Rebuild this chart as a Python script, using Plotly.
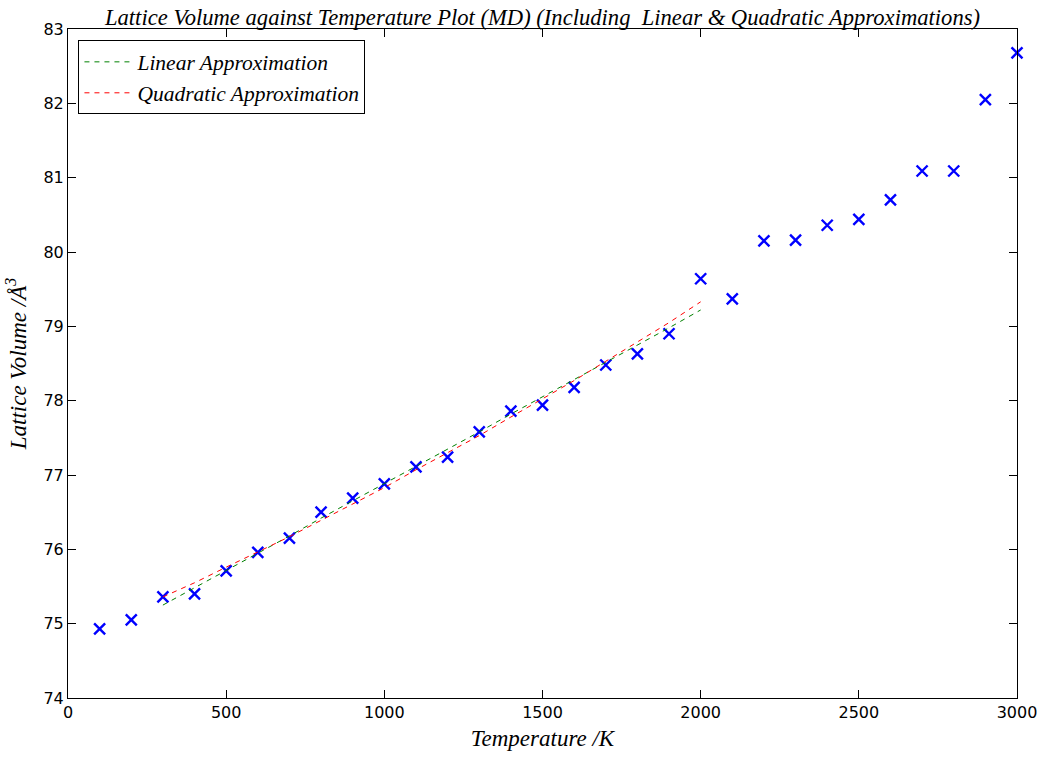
import plotly.graph_objects as go

temps = [100, 200, 300, 400, 500, 600, 700, 800, 900, 1000, 1100, 1200, 1300, 1400, 1500,
         1600, 1700, 1800, 1900, 2000, 2100, 2200, 2300, 2400, 2500, 2600, 2700, 2800, 2900, 3000]
volumes = [74.93, 75.05, 75.36, 75.40, 75.71, 75.96, 76.15, 76.50, 76.69, 76.88, 77.11, 77.24,
           77.58, 77.86, 77.94, 78.18, 78.48, 78.63, 78.90, 79.64, 79.37, 80.15, 80.16, 80.36,
           80.44, 80.70, 81.09, 81.09, 82.05, 82.68]

fit_temps = [300, 400, 500, 600, 700, 800, 900, 1000, 1100, 1200, 1300, 1400, 1500, 1600,
             1700, 1800, 1900, 2000]
linear_fit = [75.25, 75.48, 75.72, 75.95, 76.18, 76.42, 76.65, 76.88, 77.12, 77.35, 77.58,
              77.82, 78.05, 78.28, 78.52, 78.75, 78.98, 79.22]
quadratic_fit = [75.36, 75.55, 75.76, 75.96, 76.17, 76.39, 76.61, 76.83, 77.07, 77.30, 77.53,
                 77.78, 78.02, 78.27, 78.53, 78.79, 79.05, 79.33]

serif = "Liberation Serif"
sans = "DejaVu Sans"

fig = go.Figure()
fig.add_trace(go.Scatter(
    x=temps, y=volumes, mode="markers", showlegend=False,
    marker=dict(symbol="x-thin", size=11, line=dict(color="#0000ff", width=2.4)),
    cliponaxis=False,
))
fig.add_trace(go.Scatter(
    x=fit_temps, y=linear_fit, mode="lines", name="<i>Linear Approximation</i>",
    line=dict(color="#008000", width=1, dash="5px,5px"),
))
fig.add_trace(go.Scatter(
    x=fit_temps, y=quadratic_fit, mode="lines", name="<i>Quadratic Approximation</i>",
    line=dict(color="#ff0000", width=1, dash="5px,5px"),
))

axis_common = dict(
    showgrid=False, zeroline=False, showline=True, linecolor="black", linewidth=1,
    mirror="allticks", ticks="inside", ticklen=8, tickwidth=1, tickcolor="black",
    tickfont=dict(family=sans, size=16, color="black"), automargin=False,
)

fig.update_layout(
    width=1047, height=758,
    margin=dict(l=68, r=30, t=29, b=60, autoexpand=False),
    paper_bgcolor="white", plot_bgcolor="white",
    title=dict(
        text="<i>Lattice Volume against Temperature Plot (MD) (Including  Linear &amp; Quadratic Approximations)</i>",
        font=dict(family=serif, size=22.6, color="black"),
        x=0.5, xref="paper", xanchor="center", y=0.977, yanchor="middle",
        automargin=False,
    ),
    xaxis=dict(
        range=[0, 3000], tickvals=[0, 500, 1000, 1500, 2000, 2500, 3000],
        title=dict(text="<i>Temperature /K</i>", font=dict(family=serif, size=23, color="black"), standoff=8),
        **axis_common,
    ),
    yaxis=dict(
        range=[74, 83], tickvals=[74, 75, 76, 77, 78, 79, 80, 81, 82, 83],
        title=dict(text="<i>Lattice Volume /Å<sup>3</sup></i>", font=dict(family=serif, size=23, color="black"), standoff=10),
        **axis_common,
    ),
    legend=dict(
        x=0.011, y=0.983, xanchor="left", yanchor="top",
        bgcolor="white", bordercolor="black", borderwidth=1,
        font=dict(family=serif, size=21.5, color="black"),
        itemwidth=48,
    ),
)

fig.write_html("out.html", config={"displayModeBar": False},
               post_script="document.body.style.margin='0';document.body.style.overflow='hidden';")
